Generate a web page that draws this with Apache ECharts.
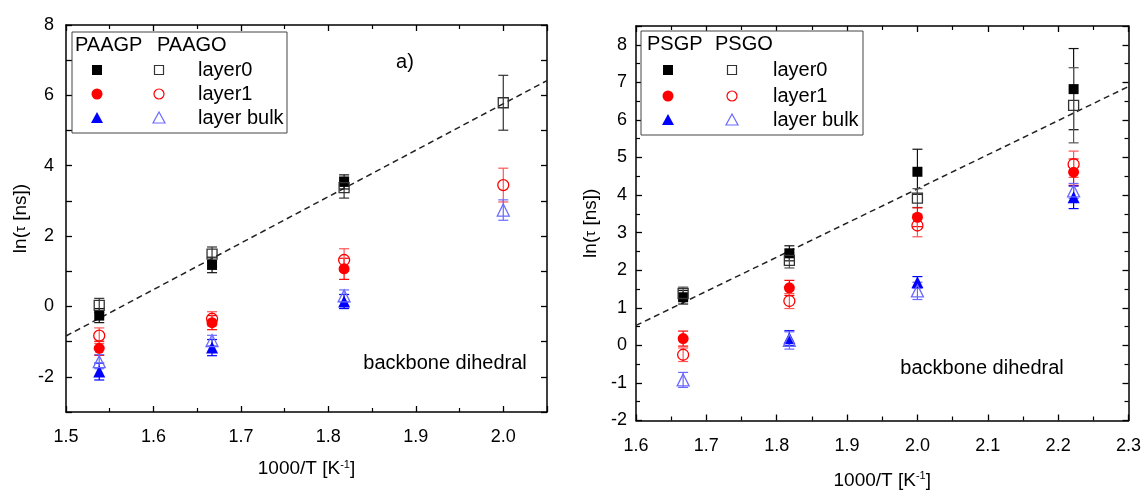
<!DOCTYPE html>
<html><head><meta charset="utf-8">
<script src="https://cdn.jsdelivr.net/npm/echarts@6/dist/echarts.min.js"></script>
<style>html,body{margin:0;padding:0;background:#fff}#c{width:1144px;height:495px}</style>
</head><body><div id="c"></div>
<script>
// ---------- data (left: PAA) ----------
const xLeft = [1.538, 1.667, 1.818, 2.0];
const paagpLayer0 = [-0.26, 1.18, 3.54, null];
const paagpLayer0Err = [0.2, 0.22, 0.2, null];
const paagpLayer1 = [-1.19, -0.46, 1.07, null];
const paagpLayer1Err = [0.2, 0.2, 0.3, null];
const paagpBulk = [-1.85, -1.17, 0.14, null];
const paagpBulkErr = [0.24, 0.23, 0.2, null];
const paagoLayer0 = [0.03, 1.49, 3.38, 5.79];
const paagoLayer0Err = [0.2, 0.2, 0.3, 0.78];
const paagoLayer1 = [-0.83, -0.35, 1.32, 3.45];
const paagoLayer1Err = [0.22, 0.2, 0.32, 0.48];
const paagoBulk = [-1.57, -0.97, 0.30, 2.74];
const paagoBulkErr = [0.2, 0.15, 0.17, 0.29];
const fitLeft = [[1.5, -0.84], [2.05, 6.42]];

// ---------- data (right: PS) ----------
const xRight = [1.667, 1.818, 2.0, 2.222];
const psgpLayer0 = [1.28, 2.45, 4.62, 6.82];
const psgpLayer0Err = [0.18, 0.2, 0.6, 1.08];
const psgpLayer1 = [0.18, 1.53, 3.41, 4.61];
const psgpLayer1Err = [0.2, 0.2, 0.25, 0.35];
const psgpBulk = [null, 0.19, 1.68, 3.94];
const psgpBulkErr = [null, 0.2, 0.15, 0.3];
const psgoLayer0 = [1.38, 2.26, 3.92, 6.39];
const psgoLayer0Err = [0.17, 0.2, 0.25, 1.0];
const psgoLayer1 = [-0.25, 1.18, 3.19, 4.82];
const psgoLayer1Err = [0.18, 0.2, 0.3, 0.35];
const psgoBulk = [-0.92, 0.13, 1.45, 4.11];
const psgoBulkErr = [0.2, 0.23, 0.23, 0.2];
const fitRight = [[1.6, 0.53], [2.3, 6.89]];

const xTicksLeft = [1.5, 1.6, 1.7, 1.8, 1.9, 2.0];
const xTicksRight = [1.6, 1.7, 1.8, 1.9, 2.0, 2.1, 2.2, 2.3];

const FONT = '"Liberation Sans", Arial, sans-serif';

function pts(xs, ys, es) {
  const out = [];
  xs.forEach((x, i) => { if (ys[i] !== null && ys[i] !== undefined) out.push([x, ys[i], es ? es[i] : 0]); });
  return out;
}

function errSeries(g, xs, ys, es, color, w) {
  return {
    type: 'custom', xAxisIndex: g * 2, yAxisIndex: g * 2, z: 2, silent: true,
    data: pts(xs, ys, es),
    renderItem: function (params, api) {
      const x = api.value(0), y = api.value(1), e = api.value(2);
      const top = api.coord([x, y + e]);
      const bot = api.coord([x, y - e]);
      const hw = 5;
      const st = { stroke: color, lineWidth: w || 1.2 };
      return { type: 'group', children: [
        { type: 'line', shape: { x1: top[0], y1: top[1], x2: bot[0], y2: bot[1] }, style: st },
        { type: 'line', shape: { x1: top[0] - hw, y1: top[1], x2: top[0] + hw, y2: top[1] }, style: st },
        { type: 'line', shape: { x1: bot[0] - hw, y1: bot[1], x2: bot[0] + hw, y2: bot[1] }, style: st }
      ]};
    }
  };
}

function scat(g, xs, ys, symbol, size, color, open) {
  return {
    type: 'scatter', xAxisIndex: g * 2, yAxisIndex: g * 2, z: open ? 4 : 3,
    symbol: symbol, symbolSize: size,
    data: pts(xs, ys).map(p => [p[0], p[1]]),
    itemStyle: open ? { color: 'rgba(255,255,255,0)', borderColor: color, borderWidth: 1.3, opacity: 1 }
                    : { color: color, opacity: 1 }
  };
}

function fitLine(g, data) {
  return { type: 'line', xAxisIndex: g * 2, yAxisIndex: g * 2, data: data, symbol: 'none', z: 1,
    lineStyle: { color: '#222', width: 1.5, type: [6, 4] } };
}

function xAxes(g, min, max) {
  const base = { type: 'value', gridIndex: g, min: min, max: max, interval: 0.1,
    axisLine: { show: true, onZero: false, lineStyle: { color: '#000', width: 1.5 } },
    axisTick: { show: true, inside: true, length: 6, lineStyle: { color: '#000', width: 1.3 } },
    minorTick: { show: true, splitNumber: 2, length: 4, lineStyle: { color: '#000', width: 1.2 } },
    splitLine: { show: false }, minorSplitLine: { show: false } };
  return [
    Object.assign({}, base, { position: 'bottom',
      name: '1000/T [K{sup|-1}]', nameLocation: 'middle', nameGap: g === 0 ? 47 : 50,
      nameTextStyle: { fontFamily: FONT, fontSize: 19, color: '#000',
        rich: { sup: { fontSize: 11, verticalAlign: 'top', padding: [0, 0, 9, 0], fontFamily: FONT, color: '#000' } } },
      axisLabel: { fontFamily: FONT, fontSize: 18, color: '#000', margin: g === 0 ? 16 : 17, showMaxLabel: g === 1,
        formatter: v => { const r = Math.round(v * 10) / 10; const list = g === 0 ? xTicksLeft : xTicksRight; return list.indexOf(r) >= 0 ? r.toFixed(1) : ''; } } }),
    Object.assign({}, base, { position: 'top', axisLabel: { show: false } })
  ];
}

function yAxes(g, min, max, even, name, gap, margin) {
  const base = { type: 'value', gridIndex: g, min: min, max: max, interval: 1,
    axisLine: { show: true, onZero: false, lineStyle: { color: '#000', width: 1.5 } },
    axisTick: { show: true, inside: true, length: 6, lineStyle: { color: '#000', width: 1.3 } },
    minorTick: { show: !even, splitNumber: 2, length: 4, lineStyle: { color: '#000', width: 1.2 } },
    splitLine: { show: false }, minorSplitLine: { show: false } };
  return [
    Object.assign({}, base, { position: 'left',
      name: name, nameLocation: 'middle', nameGap: gap,
      nameTextStyle: { fontFamily: FONT, fontSize: 19, color: '#000', rich: { t: { fontFamily: FONT, fontSize: 15, color: '#000' } } },
      axisLabel: { fontFamily: FONT, fontSize: 18, color: '#000', margin: margin, showMaxLabel: even,
        formatter: v => { const r = Math.round(v * 10) / 10; if (Math.abs(r - Math.round(r)) > 1e-6) return ''; if (even && Math.round(r) % 2 !== 0) return ''; return String(Math.round(r)); } } }),
    Object.assign({}, base, { position: 'right', axisLabel: { show: false } })
  ];
}

const chart = echarts.init(document.getElementById('c'), null, { renderer: 'canvas' });

const xa = xAxes(0, 1.5, 2.05).concat(xAxes(1, 1.6, 2.3));
const ya = yAxes(0, -3, 8, true, 'ln({t|τ} [ns])', 36, 12).concat(yAxes(1, -2, 8.5, false, 'ln({t|τ} [ns])', 36, 9));
xa[2].gridIndex = 1; xa[3].gridIndex = 1;
ya[2].gridIndex = 1; ya[3].gridIndex = 1;

const BLUE = '#0000ff', BLUE_L = '#6a6aff', RED = '#ff0000', RED_L = '#ff5555';

const series = [
  fitLine(0, fitLeft), fitLine(1, fitRight),
  errSeries(0, xLeft, paagpLayer0, paagpLayer0Err, '#111'),
  errSeries(0, xLeft, paagoLayer0, paagoLayer0Err, '#333'),
  errSeries(0, xLeft, paagpLayer1, paagpLayer1Err, RED),
  errSeries(0, xLeft, paagoLayer1, paagoLayer1Err, RED_L),
  errSeries(0, xLeft, paagpBulk, paagpBulkErr, BLUE),
  errSeries(0, xLeft, paagoBulk, paagoBulkErr, BLUE_L),
  errSeries(1, xRight, psgpLayer0, psgpLayer0Err, '#111'),
  errSeries(1, xRight, psgoLayer0, psgoLayer0Err, '#555'),
  errSeries(1, xRight, psgpLayer1, psgpLayer1Err, RED),
  errSeries(1, xRight, psgoLayer1, psgoLayer1Err, RED_L),
  errSeries(1, xRight, psgpBulk, psgpBulkErr, BLUE),
  errSeries(1, xRight, psgoBulk, psgoBulkErr, BLUE_L),
  scat(0, xLeft, paagpLayer0, 'rect', 10, '#000', false),
  scat(0, xLeft, paagpLayer1, 'circle', 11, RED, false),
  scat(0, xLeft, paagpBulk, 'triangle', 12, BLUE, false),
  scat(0, xLeft, paagoLayer0, 'rect', 10, '#333', true),
  scat(0, xLeft, paagoLayer1, 'circle', 11, RED, true),
  scat(0, xLeft, paagoBulk, 'triangle', 12, BLUE_L, true),
  scat(1, xRight, psgpLayer0, 'rect', 10, '#000', false),
  scat(1, xRight, psgpLayer1, 'circle', 11, RED, false),
  scat(1, xRight, psgpBulk, 'triangle', 12, BLUE, false),
  scat(1, xRight, psgoLayer0, 'rect', 10, '#333', true),
  scat(1, xRight, psgoLayer1, 'circle', 11, RED, true),
  scat(1, xRight, psgoBulk, 'triangle', 12, BLUE_L, true)
];

function legendGraphics(box, head, colF, colO, colT, rowY, headY) {
  const g = [];
  const f = '20px ' + FONT;
  g.push({ type: 'rect', shape: { x: box[0], y: box[1], width: box[2], height: box[3] },
    style: { fill: '#fff', stroke: '#444', lineWidth: 1 }, z: 10 });
  g.push({ type: 'text', x: head[0][0], y: headY, z: 11, style: { text: head[0][1], font: f, fill: '#000', textVerticalAlign: 'middle' } });
  g.push({ type: 'text', x: head[1][0], y: headY, z: 11, style: { text: head[1][1], font: f, fill: '#000', textVerticalAlign: 'middle' } });
  const labels = ['layer0', 'layer1', 'layer bulk'];
  labels.forEach((t, i) => g.push({ type: 'text', x: colT, y: rowY[i], z: 11, style: { text: t, font: f, fill: '#000', textVerticalAlign: 'middle' } }));
  g.push({ type: 'rect', z: 11, shape: { x: colF - 5, y: rowY[0] - 5, width: 10, height: 10 }, style: { fill: '#000' } });
  g.push({ type: 'rect', z: 11, shape: { x: colO - 4.5, y: rowY[0] - 4.5, width: 9, height: 9 }, style: { fill: 'none', stroke: '#333', lineWidth: 1.2 } });
  g.push({ type: 'circle', z: 11, shape: { cx: colF, cy: rowY[1], r: 5.5 }, style: { fill: RED } });
  g.push({ type: 'circle', z: 11, shape: { cx: colO, cy: rowY[1], r: 5 }, style: { fill: 'none', stroke: RED, lineWidth: 1.2 } });
  g.push({ type: 'polygon', z: 11, shape: { points: [[colF, rowY[2] - 6], [colF + 6, rowY[2] + 5], [colF - 6, rowY[2] + 5]] }, style: { fill: BLUE } });
  g.push({ type: 'polygon', z: 11, shape: { points: [[colO, rowY[2] - 6], [colO + 6, rowY[2] + 5], [colO - 6, rowY[2] + 5]] }, style: { fill: 'none', stroke: BLUE_L, lineWidth: 1.2 } });
  return g;
}

const graphics = []
  .concat(legendGraphics([72, 32, 215, 101], [[75, 'PAAGP'], [157, 'PAAGO']], 97, 159, 198, [70, 94, 118], 45))
  .concat(legendGraphics([641, 31, 222, 104], [[647, 'PSGP'], [715, 'PSGO']], 668, 732, 773, [70, 96, 120], 44))
  .concat([
    { type: 'text', x: 405, y: 62, z: 11, style: { text: 'a)', font: '20px ' + FONT, fill: '#000', textAlign: 'center', textVerticalAlign: 'middle' } },
    { type: 'text', x: 445, y: 363, z: 11, style: { text: 'backbone dihedral', font: '20px ' + FONT, fill: '#000', textAlign: 'center', textVerticalAlign: 'middle' } },
    { type: 'text', x: 982, y: 368, z: 11, style: { text: 'backbone dihedral', font: '20px ' + FONT, fill: '#000', textAlign: 'center', textVerticalAlign: 'middle' } }
  ]);

chart.setOption({
  animation: false,
  backgroundColor: '#fff',
  grid: [
    { left: 66, top: 25, width: 481, height: 387 },
    { left: 636, top: 26, width: 494, height: 399 }
  ],
  xAxis: xa,
  yAxis: ya,
  series: series,
  graphic: graphics
});
</script>
</body></html>
